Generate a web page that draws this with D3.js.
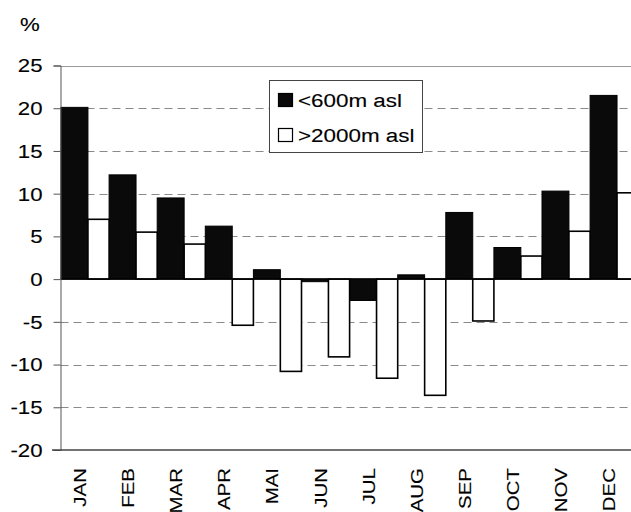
<!DOCTYPE html>
<html>
<head>
<meta charset="utf-8">
<script src="https://cdn.jsdelivr.net/npm/d3@7"></script>
<style>
  html, body { margin: 0; padding: 0; background: #fff; overflow: hidden; }
  svg { display: block; }
  text { font-family: "Liberation Sans", Arial, Helvetica, sans-serif; fill: #000; stroke: #000; stroke-width: 0.12px; }
</style>
</head>
<body>
<svg id="chart" width="631" height="512"></svg>
<script>
// ---- data ----
const months = ["JAN","FEB","MAR","APR","MAI","JUN","JUL","AUG","SEP","OCT","NOV","DEC"];
const low600 = [20.1, 12.2, 9.5, 6.2, 1.1, -0.3, -2.5, 0.5, 7.8, 3.7, 10.3, 21.5];
const high2000 = [7.0, 5.5, 4.1, -5.4, -10.8, -9.1, -11.6, -13.6, -4.9, 2.7, 5.6, 10.1];
const yTicks = [25, 20, 15, 10, 5, 0, -5, -10, -15, -20];
const seriesNames = ["<600m asl", ">2000m asl"];

// ---- layout ----
const svg = d3.select("#chart");
const plotLeft = 60.5, plotRight = 631;
const x = d3.scaleBand().domain(months).range([61, 638.2]).padding(0);
const y = d3.scaleLinear().domain([-20, 25]).range([450, 65.5]);
const bw = x.bandwidth();
const blackFrac = 0.56;
const SX = 1.2; // horizontal stretch of the type

// gridlines
const grid = svg.append("g");
grid.selectAll("line.g")
  .data(yTicks.filter(t => t !== 0 && t !== -20 && t !== 25))
  .join("line")
  .attr("x1", plotLeft).attr("x2", plotRight)
  .attr("y1", d => Math.round(y(d)) + 0.5).attr("y2", d => Math.round(y(d)) + 0.5)
  .attr("stroke", "#8a8a8a").attr("stroke-width", 1.2)
  .attr("stroke-dasharray", "8,5");
// top border (25)
grid.append("line")
  .attr("x1", plotLeft).attr("x2", plotRight)
  .attr("y1", Math.round(y(25)) + 0.5).attr("y2", Math.round(y(25)) + 0.5)
  .attr("stroke", "#999").attr("stroke-width", 1);

// bars
const bars = svg.append("g");
bars.selectAll("rect.low")
  .data(months.map((m, i) => ({m, v: low600[i]})))
  .join("rect")
  .attr("x", d => x(d.m))
  .attr("width", bw * blackFrac)
  .attr("y", d => y(Math.max(0, d.v)))
  .attr("height", d => Math.abs(y(d.v) - y(0)))
  .attr("fill", "#0a0a0a")
  .attr("stroke", "#000").attr("stroke-width", 1);
bars.selectAll("rect.high")
  .data(months.map((m, i) => ({m, v: high2000[i]})))
  .join("rect")
  .attr("x", d => x(d.m) + bw * blackFrac)
  .attr("width", bw * (1 - blackFrac))
  .attr("y", d => y(Math.max(0, d.v)))
  .attr("height", d => Math.abs(y(d.v) - y(0)))
  .attr("fill", "#fff")
  .attr("stroke", "#000").attr("stroke-width", 1.6);

// zero line
svg.append("line")
  .attr("x1", plotLeft).attr("x2", plotRight)
  .attr("y1", y(0)).attr("y2", y(0))
  .attr("stroke", "#000").attr("stroke-width", 1.5);

// y axis
const yAxis = svg.append("g")
  .attr("transform", `translate(${plotLeft},0)`)
  .call(d3.axisLeft(y).tickValues(yTicks).tickSize(7).tickFormat(d3.format("d")));
yAxis.select(".domain").attr("stroke", "#555").attr("stroke-width", 1);
yAxis.selectAll(".tick line").attr("stroke", "#555");
yAxis.selectAll(".tick text")
  .attr("x", 0).attr("dy", null)
  .attr("font-size", 18.5)
  .attr("dominant-baseline", "central")
  .attr("font-family", "Liberation Sans, Arial, sans-serif")
  .attr("transform", `translate(-18,0) scale(${SX},1)`)
  .text(d => d < 0 ? "-" + Math.abs(d) : d);

// bottom axis line
svg.append("line")
  .attr("x1", 52).attr("x2", plotRight)
  .attr("y1", y(-20)).attr("y2", y(-20))
  .attr("stroke", "#444").attr("stroke-width", 1.3);

// x labels
const xAxis = svg.append("g")
  .attr("transform", `translate(0,${y(-20)})`)
  .call(d3.axisBottom(x).tickSize(0));
xAxis.select(".domain").remove();
xAxis.selectAll(".tick text")
  .attr("x", 0).attr("y", 0).attr("dy", "0.36em")
  .attr("font-size", 16.5)
  .attr("font-family", "Liberation Sans, Arial, sans-serif")
  .attr("text-anchor", "end")
  .attr("transform", `translate(-5,18) rotate(-90) scale(1.24,1)`);

// % label
svg.append("text")
  .attr("transform", `translate(20,31) scale(${SX},1)`)
  .attr("font-size", 18.5)
  .text("%");

// legend
const lg = svg.append("g");
lg.append("rect")
  .attr("x", 269.5).attr("y", 80.5).attr("width", 153).attr("height", 72)
  .attr("fill", "#fff").attr("stroke", "#444").attr("stroke-width", 1);
const legendItems = seriesNames.map((n, i) => ({n, i}));
lg.selectAll("rect.sw")
  .data(legendItems)
  .join("rect")
  .attr("x", 278.5).attr("y", d => 93.5 + d.i * 35)
  .attr("width", 14).attr("height", 13)
  .attr("fill", d => d.i === 0 ? "#0a0a0a" : "#fff")
  .attr("stroke", "#000").attr("stroke-width", 1.2);
lg.selectAll("text.lt")
  .data(legendItems)
  .join("text")
  .attr("font-size", 19)
  .attr("transform", d => `translate(298,${106.5 + d.i * 35.5}) scale(1.18,1)`)
  .text(d => d.n);
</script>
</body>
</html>
